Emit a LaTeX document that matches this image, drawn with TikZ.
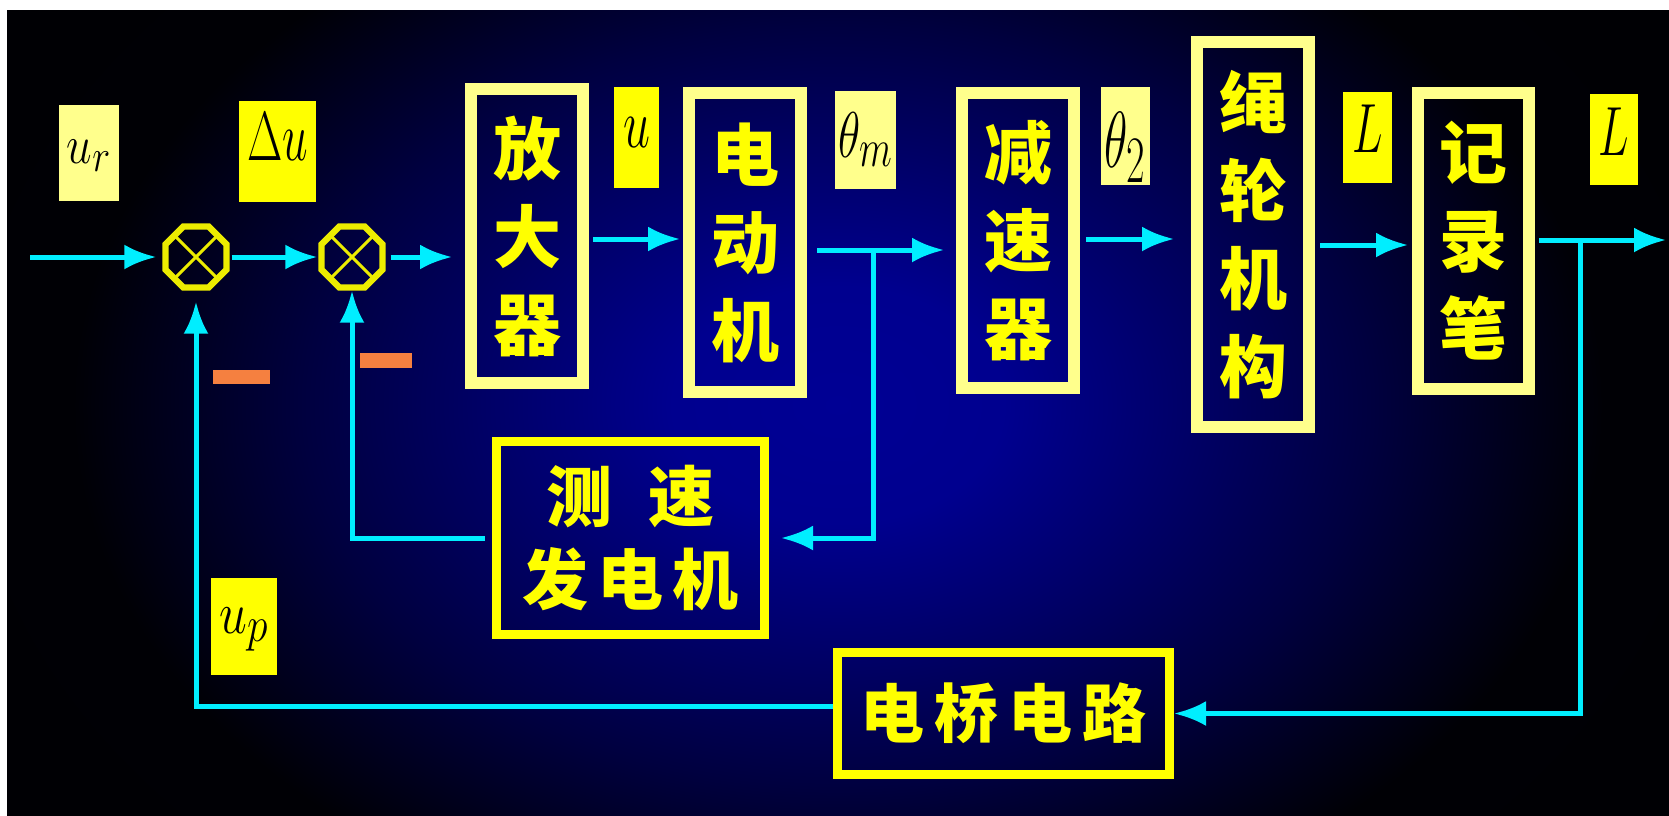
\documentclass[tikz,border=0pt]{standalone}
\usepackage{fontspec}
\usepackage{graphicx}
\newfontfamily\cjk{Noto Sans CJK SC}
\usetikzlibrary{arrows.meta,shapes.geometric}
\definecolor{lyel}{RGB}{255,255,140}
\definecolor{byel}{RGB}{255,255,0}
\definecolor{cyanl}{RGB}{0,238,255}
\definecolor{orng}{RGB}{245,128,64}
\definecolor{octy}{RGB}{236,236,0}
\pgfdeclareradialshading{bgshade}{\pgfpoint{0bp}{0bp}}{rgb(0bp)=(0,0,0.58); rgb(5bp)=(0,0,0.56); rgb(16bp)=(0,0,0.25); rgb(23bp)=(0,0,0.02); rgb(50bp)=(0,0,0)}
\begin{document}
\begin{tikzpicture}[x=0.5pt,y=-0.5pt,
  bigbox/.style={draw=lyel, line width=6pt, inner sep=0pt, minimum width=56pt, text=byel, align=center,
    font=\cjk\bfseries\fontsize{34pt}{44pt}\selectfont},
  widebox/.style={draw=byel, line width=4.5pt, inner sep=0pt, text=byel, align=center,
    font=\cjk\bfseries\fontsize{33pt}{41.5pt}\selectfont},
  lab/.style={inner sep=0pt, text=black, font=\fontsize{24.88pt}{29pt}\selectfont},
  sumnode/.style={regular polygon, regular polygon sides=8, draw=octy, line width=3.2pt, minimum size=33pt, inner sep=0pt},
  xline/.style={draw=octy, line width=1.5pt},
  conn/.style={draw=cyanl, line width=2.5pt, -{Latex[length=16pt,width=12.5pt]}}
]
\useasboundingbox (0,0) rectangle (1669,815);
\fill[white] (0,0) rectangle (1669,815);
\begin{scope}
  \clip (7,10) rectangle (1669,815);
  \shade[shading=bgshade] (7,-190) rectangle (1669,1000);
\end{scope}

% summing junctions
\node[sumnode] (s1) at (196,257) {};
\node[sumnode] (s2) at (352,257) {};
\draw[xline, shorten <=2pt, shorten >=2pt] (s1.45) -- (s1.225);
\draw[xline, shorten <=2pt, shorten >=2pt] (s1.135) -- (s1.315);
\draw[xline, shorten <=2pt, shorten >=2pt] (s2.45) -- (s2.225);
\draw[xline, shorten <=2pt, shorten >=2pt] (s2.135) -- (s2.315);

% blocks
\node[bigbox, minimum height=147pt] (amp) at (527,236) {放\\大\\器};
\node[bigbox, minimum height=149.5pt] (mot) at (745,242.5) {电\\动\\机};
\node[bigbox, minimum height=147.5pt] (red) at (1018,240.5) {减\\速\\器};
\node[bigbox, minimum height=192.5pt] (rope) at (1253,234.5) {绳\\轮\\机\\构};
\node[bigbox, minimum width=55.5pt, minimum height=148pt] (rec) at (1473.5,241) {记\\录\\笔};
\node[widebox, minimum width=134pt, minimum height=96.5pt] (tach) at (630.5,538)
  {测\hspace{18.5pt}速\\发\hspace{4.5pt}电\hspace{4.5pt}机};
\node[widebox, minimum width=166pt, minimum height=61pt, font=\cjk\bfseries\fontsize{32pt}{40pt}\selectfont] (bridge) at (1003.5,713.5)
  {电\hspace{5pt}桥\hspace{5pt}电\hspace{5pt}路};

% signal labels
\node[lab, fill=lyel, minimum width=30pt, minimum height=48pt, text height=16pt, text depth=6pt] (lur) at (89,153) {\scalebox{0.92}[1.1]{$u_r$}};
\node[lab, fill=byel, minimum width=38.5pt, minimum height=50.5pt, text height=16pt, text depth=7.5pt] (ldu) at (277.5,151.5) {\scalebox{0.92}[1.4]{$\Delta u$}};
\node[lab, fill=byel, minimum width=22.5pt, minimum height=50.5pt, text height=16pt, text depth=6.5pt] (lu) at (636.5,137.5) {\scalebox{0.97}[1.4]{$u$}};
\node[lab, fill=lyel, minimum width=30.5pt, minimum height=49pt, text height=20pt, text depth=3pt] (lthm) at (865.5,140) {\scalebox{0.92}[1.3]{$\theta_m$}};
\node[lab, fill=lyel, minimum width=24.5pt, minimum height=49pt, text height=34pt, text depth=3pt] (lth2) at (1125.5,136) {\scalebox{0.97}[1.6]{$\theta_2$}};
\node[lab, fill=byel, minimum width=24.5pt, minimum height=45.5pt, text height=18pt, text depth=3.5pt] (lL1) at (1367.5,137.5) {\scalebox{0.92}[1.4]{$L$}};
\node[lab, fill=byel, minimum width=24pt, minimum height=45.5pt, text height=18pt, text depth=2.5pt] (lL2) at (1614,139.5) {\scalebox{0.92}[1.4]{$L$}};
\node[lab, fill=byel, minimum width=33pt, minimum height=48.5pt, text height=14pt, text depth=7.5pt] (lup) at (244,626.5) {\scalebox{1}[1.2]{$u_p$}};

% minus signs
\fill[orng] (213,370) rectangle (270,384);
\fill[orng] (360,353) rectangle (412,368);

% connectors
\coordinate (in) at (30,257);
\coordinate (out) at (1666,240);
\coordinate (b1) at (873,250);
\coordinate (b2) at (1580,240);
\draw[conn, shorten >=3pt] (in) -- (s1.west);
\draw[conn, shorten <=1pt, shorten >=0.5pt] (s1.east) -- (s2.west);
\draw[conn, shorten <=2.5pt, shorten >=6.5pt] (s2.east) -- (s2.east -| amp.west);
\draw[conn, shorten <=2pt, shorten >=1.5pt] (amp.east |- 0,239) -- (mot.west |- 0,239);
\draw[conn, shorten <=5pt, shorten >=6pt] (mot.east |- 0,250) -- (red.west |- 0,250);
\draw[conn, shorten <=3pt, shorten >=8.5pt] (red.east |- 0,239) -- (rope.west |- 0,239);
\draw[conn, shorten <=2.5pt, shorten >=2pt] (rope.east |- 0,245) -- (rec.west |- 0,245);
\draw[conn, shorten <=2pt] (rec.east |- 0,240) -- (out);
\draw[conn, shorten >=6pt] (b1) |- (tach.east);
\draw[conn, shorten <=3.5pt] (tach.west) -| (s2.south);
\draw[conn] (b2) |- (bridge.east);
\draw[conn, shorten >=5.5pt] ([yshift=3.75pt]bridge.west) -| (s1.south);
\end{tikzpicture}
\end{document}
